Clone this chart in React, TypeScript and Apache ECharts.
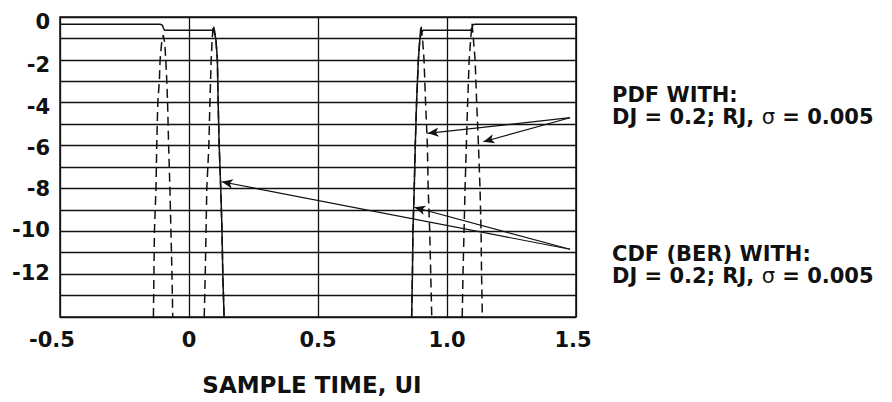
import React, { useEffect, useRef } from "react";
import * as echarts from "echarts";

// Axis settings
const xMin = -0.5;
const xMax = 1.5;
const xStep = 0.5;
const yMin = -14;
const yMax = 0;
const yStep = 1;
const yLabelValues = [0, -2, -4, -6, -8, -10, -12];
// small vertical nudges of the y labels as placed in the reference (px, + = down)
const yLabelNudge = [4.5, 5, 4, 2.5, 1, -1, -1.5];
// small horizontal nudges of the x labels (px, + = left)
const xLabelValues = [-0.5, 0, 0.5, 1.0, 1.5];
const xLabelNudge = [8, 0, 0, 0, 3];

// CDF (BER) solid curves [x, log10(BER)]
const cdfLeft = [
  [-0.5, -0.34], [-0.112, -0.34], [-0.103, -0.38], [-0.1, -0.5], [-0.095, -0.62],
  [0.089, -0.62], [0.097, -0.7], [0.104, -1], [0.11, -2], [0.113, -4], [0.117, -6],
  [0.123, -8], [0.128, -10], [0.131, -12], [0.136, -14],
];
const cdfRight = [
  [0.863, -14], [0.866, -12], [0.868, -10], [0.873, -8], [0.877, -6], [0.882, -4],
  [0.889, -2], [0.895, -1], [0.902, -0.7], [0.908, -0.62], [1.092, -0.62],
  [1.097, -0.5], [1.1, -0.38], [1.106, -0.34], [1.5, -0.34],
];

// PDF dashed peaks [x, log10(pdf)]
const pdfPeakA = [
  [-0.138, -14], [-0.136, -12], [-0.134, -10], [-0.128, -8], [-0.125, -6], [-0.121, -4],
  [-0.115, -3], [-0.112, -2], [-0.106, -1.2], [-0.1, -0.85], [-0.094, -1.2], [-0.09, -2],
  [-0.086, -3], [-0.083, -4], [-0.079, -6], [-0.074, -8], [-0.07, -10], [-0.066, -12], [-0.063, -14],
];
const pdfPeakB = [
  [0.059, -14], [0.063, -12], [0.066, -10], [0.069, -8], [0.077, -6], [0.081, -4],
  [0.086, -2], [0.09, -1], [0.094, -0.37], [0.1, -0.7], [0.104, -1], [0.11, -2],
  [0.113, -4], [0.117, -6], [0.123, -8], [0.128, -10], [0.131, -12], [0.136, -14],
];
const pdfPeakC = [
  [0.863, -14], [0.866, -12], [0.868, -10], [0.873, -8], [0.877, -6], [0.882, -4],
  [0.889, -2], [0.895, -1], [0.899, -0.37], [0.905, -1], [0.911, -2], [0.917, -4],
  [0.924, -6], [0.927, -8], [0.933, -10], [0.937, -12], [0.941, -14],
];
const pdfPeakD = [
  [1.059, -14], [1.062, -12], [1.066, -10], [1.07, -8], [1.075, -6], [1.08, -4],
  [1.086, -2], [1.092, -1], [1.097, -0.3], [1.102, -1], [1.109, -2], [1.115, -4],
  [1.122, -6], [1.128, -8], [1.132, -10], [1.134, -12], [1.137, -14],
];

// Annotation arrows (data coordinates)
const pdfArrowFrom = [1.477, -4.7];
const pdfArrowTo = [[0.925, -5.43], [1.141, -5.82]];
const cdfArrowFrom = [1.477, -10.84];
const cdfArrowTo = [[0.127, -7.69], [0.873, -8.88]];

// Texts
const xTitle = "SAMPLE TIME, UI";
const pdfText = "PDF WITH:\nDJ = 0.2; RJ, {s|σ} = 0.005";
const cdfText = "CDF (BER) WITH:\nDJ = 0.2; RJ, {s|σ} = 0.005";

const FONT = '"DejaVu Sans", sans-serif';
const INK = "#111";

export default function App() {
  const ref = useRef<HTMLDivElement>(null);
  useEffect(() => {
    const chart = echarts.init(ref.current!, null, { renderer: "svg" });
    const solid = (data: number[][]) => ({
      type: "line",
      data,
      showSymbol: false,
      symbol: "none",
      lineStyle: { color: INK, width: 1.5, type: "solid" },
      silent: true,
      z: 3,
    });
    const dashed = (data: number[][]) => ({
      type: "line",
      data,
      showSymbol: false,
      symbol: "none",
      lineStyle: { color: INK, width: 1.5, type: [9, 5] },
      silent: true,
      z: 2,
    });
    const arrows = (from: number[], tos: number[][]) =>
      tos.map((to) => [
        { coord: from, symbol: "none" },
        { coord: to, symbol: "arrow", symbolSize: [7, 11] },
      ]);
    const blockText = (text: string, x: number, y: number) => ({
      type: "text",
      x,
      y,
      silent: true,
      style: {
        text,
        fontFamily: FONT,
        fontWeight: "bold",
        fontSize: 21,
        lineHeight: 22,
        fill: INK,
        align: "left",
        verticalAlign: "top",
        rich: {
          s: { fontFamily: FONT, fontWeight: "normal", fontSize: 21, lineHeight: 22, fill: INK },
        },
      },
    });

    const yRich: Record<string, any> = {};
    yLabelValues.forEach((_, i) => {
      const n = yLabelNudge[i];
      yRich["y" + i] = {
        fontFamily: FONT,
        fontWeight: "bold",
        fontSize: 21,
        color: INK,
        padding: n >= 0 ? [2 * n, 0, 0, 0] : [0, 0, -2 * n, 0],
      };
    });
    const xRich: Record<string, any> = {};
    xLabelValues.forEach((_, i) => {
      xRich["x" + i] = {
        fontFamily: FONT,
        fontWeight: "bold",
        fontSize: 21,
        color: INK,
        padding: [0, 2 * xLabelNudge[i], 0, 0],
      };
    });

    chart.setOption({
      animation: false,
      backgroundColor: "#fff",
      grid: {
        left: 60,
        top: 17,
        right: 316,
        bottom: 85,
        show: true,
        borderColor: INK,
        borderWidth: 1.5,
        containLabel: false,
      },
      xAxis: {
        type: "value",
        min: xMin,
        max: xMax,
        interval: xStep,
        axisLine: { show: false },
        axisTick: { show: false },
        splitLine: { show: true, lineStyle: { color: INK, width: 1.3 } },
        axisLabel: {
          margin: 12,
          fontFamily: FONT,
          fontWeight: "bold",
          fontSize: 21,
          color: INK,
          rich: xRich,
          formatter: (v: number) => {
            const i = xLabelValues.findIndex((t) => Math.abs(t - v) < 1e-6);
            if (i < 0) return "";
            const s = v === 0 ? "0" : v.toFixed(1);
            return "{x" + i + "|" + s + "}";
          },
        },
      },
      yAxis: {
        type: "value",
        min: yMin,
        max: yMax,
        interval: yStep,
        axisLine: { show: false },
        axisTick: { show: false },
        splitLine: { show: true, lineStyle: { color: INK, width: 1.3 } },
        axisLabel: {
          margin: 10,
          fontFamily: FONT,
          fontWeight: "bold",
          fontSize: 21,
          color: INK,
          rich: yRich,
          formatter: (v: number) => {
            const i = yLabelValues.findIndex((t) => Math.abs(t - v) < 1e-6);
            if (i < 0) return "";
            return "{y" + i + "|" + String(yLabelValues[i]) + "}";
          },
        },
      },
      series: [
        dashed(pdfPeakA),
        dashed(pdfPeakB),
        dashed(pdfPeakC),
        dashed(pdfPeakD),
        solid(cdfLeft),
        solid(cdfRight),
        {
          type: "line",
          data: [],
          silent: true,
          markLine: {
            silent: true,
            animation: false,
            label: { show: false },
            lineStyle: { color: INK, width: 1.2, type: "solid" },
            emphasis: { disabled: true },
            data: [...arrows(pdfArrowFrom, pdfArrowTo), ...arrows(cdfArrowFrom, cdfArrowTo)],
          },
        },
      ],
      graphic: [
        {
          type: "text",
          x: 312,
          y: 385,
          silent: true,
          style: {
            text: xTitle,
            fontFamily: FONT,
            fontWeight: "bold",
            fontSize: 23,
            fill: INK,
            align: "center",
            verticalAlign: "middle",
          },
        },
        blockText(pdfText, 612, 84),
        blockText(cdfText, 612, 243),
      ],
    });
    return () => chart.dispose();
  }, []);
  return (
    <div
      ref={ref}
      style={{ position: "fixed", left: 0, top: 0, width: 892, height: 402, background: "#fff" }}
    />
  );
}
